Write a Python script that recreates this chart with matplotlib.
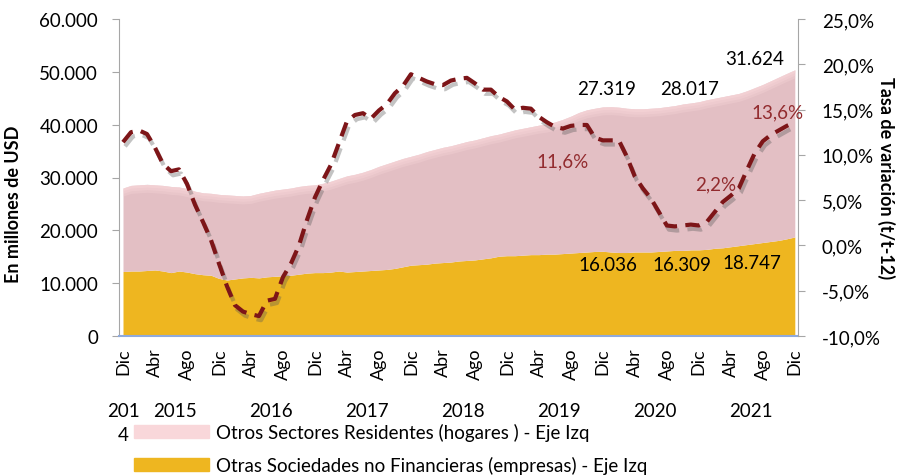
import matplotlib
matplotlib.use("Agg")
import matplotlib.pyplot as plt
import matplotlib.patheffects as pe
import numpy as np
from matplotlib.ticker import FuncFormatter

plt.rcParams['font.family'] = ['Lato', 'DejaVu Sans']

# monthly data, Dic 2014 .. Dic 2021 (millones de USD)
empresas = [
    12200, 12300, 12300, 12400, 12500, 12300, 12000, 12300, 12100, 11800, 11600, 11500,
    10900, 10600, 10800, 11000, 11100, 11000, 11200, 11300, 11400, 11500, 11700, 11900,
    12000, 12000, 12100, 12300, 12100, 12200, 12300, 12400, 12500, 12600, 12800, 13100,
    13400, 13500, 13600, 13800, 13900, 14000, 14200, 14300, 14400, 14600, 14800, 15100,
    15200, 15200, 15300, 15400, 15400, 15500, 15500, 15600, 15700, 15800, 15900, 16000,
    16036, 15900, 15800, 15800, 15900, 15900, 15900, 16000, 16100, 16200, 16200, 16300,
    16309, 16400, 16600, 16700, 16900, 17100, 17300, 17500, 17700, 17900, 18100, 18400,
    18747,
]
hogares = [
    15800, 16200, 16300, 16300, 16100, 16200, 16300, 15900, 15800, 15600, 15500, 15500,
    15900, 16100, 15800, 15500, 15500, 16000, 16100, 16300, 16400, 16500, 16600, 16600,
    16600, 16900, 17200, 17500, 18200, 18400, 18700, 19100, 19600, 20000, 20300, 20500,
    20600, 20900, 21300, 21500, 21800, 22000, 22200, 22500, 22700, 22900, 23100, 23100,
    23400, 23800, 24000, 24200, 24500, 24600, 25000, 25400, 25900, 26500, 26900, 27100,
    27319, 27500, 27500, 27300, 27100, 27100, 27200, 27200, 27300, 27400, 27700, 27800,
    28017, 28300, 28400, 28600, 28700, 28800, 29100, 29500, 29900, 30400, 30900, 31300,
    31624,
]
# tasa de variacion (t/t-12), %
tasa = [
    11.4, 12.5, 12.7, 12.3, 10.8, 9.0, 8.2, 8.4, 6.8, 4.5, 2.6, 0.6,
    -2.0, -4.5, -6.6, -7.3, -7.6, -7.8, -6.1, -5.9, -3.5, -2.0, 0.0, 2.8,
    5.3, 7.2, 8.9, 11.3, 13.7, 14.4, 14.6, 14.0, 14.9, 15.6, 16.8, 17.6,
    18.9, 18.5, 18.1, 17.8, 17.7, 18.2, 18.4, 18.5, 17.9, 17.2, 17.2, 16.4,
    15.9, 15.0, 15.2, 15.1, 14.2, 13.6, 13.1, 12.9, 13.2, 13.3, 13.3, 11.9,
    11.6, 11.6, 11.6, 9.8, 7.6, 6.3, 5.2, 3.7, 2.2, 2.1, 2.2, 2.3,
    2.2, 2.6, 3.7, 4.8, 5.5, 6.3, 8.3, 10.2, 11.5, 12.2, 12.7, 13.2,
    13.6,
]
tick_labels = ["Dic", "Abr", "Ago"] * 7 + ["Dic"]
years = ["201\n4", "2015", "2016", "2017", "2018", "2019", "2020", "2021"]
year_pos = [0, 6.5, 18.5, 30.5, 42.5, 54.5, 66.5, 78.5]

# data labels: (month, value, text)
val_labels = [(60.5, 46800, "27.319"), (70.9, 46800, "28.017"), (79.0, 52500, "31.624"),
              (60.6, 13600, "16.036"), (69.9, 13600, "16.309"), (78.6, 14000, "18.747")]
pct_labels = [(55.0, 9.3, "11,6%"), (74.1, 6.8, "2,2%"), (81.8, 14.8, "13,6%")]

PINK = "#E3BFC4"
PINK_TOP = "#F9D7DA"
GOLD = "#EEB620"
RED = "#7D1518"

months = np.arange(len(empresas))
emp = np.array(empresas)
tot = emp + np.array(hogares)

fig = plt.figure(figsize=(9.09, 4.77), dpi=100)
ax = fig.add_axes([119 / 909, 1 - 337 / 477, (798 - 119) / 909, 317 / 477])

ax.fill_between(months, 0, emp, color=GOLD, lw=0)
ax.fill_between(months, emp, tot, color=PINK, lw=0)
# soft lighter rim along the top of the pink area
for d, a in [(1500, 0.3), (1000, 0.35), (500, 0.45)]:
    ax.fill_between(months, tot - d, tot, color=PINK_TOP, lw=0, alpha=a)

ax.set_ylim(0, 60000)
ax.set_xlim(-0.5, 84.4)
ax.set_yticks(range(0, 60001, 10000))
ax.yaxis.set_major_formatter(FuncFormatter(lambda v, p: f"{int(v):,}".replace(",", ".")))
ax.set_xticks(range(0, 85, 4))
ax.set_xticklabels(tick_labels, rotation=90)
ax.tick_params(axis="x", length=0, pad=8, labelsize=13)
ax.tick_params(axis="y", length=5, pad=10, labelsize=13.5, color="#A6A6A6")
ax.set_ylabel("En millones de USD", fontsize=13, fontweight="bold")
ax.yaxis.set_label_coords(-0.143, 0.42)

for s in ["top", "right"]:
    ax.spines[s].set_visible(False)
ax.spines["left"].set_color("#A6A6A6")
ax.spines["bottom"].set_color("#8FAADC")
ax.spines["bottom"].set_linewidth(1.5)

for x, y, t in val_labels:
    ax.text(x, y, t, ha="center", va="center", fontsize=13.5, color="black", zorder=5)

for x, t in zip(year_pos, years):
    ax.text(x, -0.207, t, transform=ax.get_xaxis_transform(), ha="center", va="top",
            fontsize=13.5, linespacing=1.55)

ax2 = ax.twinx()
ax2.plot(months, tasa, color=RED, lw=3, ls=(0, (3.5, 2)),
         path_effects=[pe.SimpleLineShadow(offset=(1.5, -3), shadow_color="#555555", alpha=0.35),
                       pe.Normal()])
ax2.set_ylim(-10, 25)
ax2.set_yticks(range(-10, 26, 5))
ax2.yaxis.set_major_formatter(FuncFormatter(lambda v, p: f"{v:.1f}%".replace(".", ",")))
ax2.tick_params(axis="y", length=5, pad=12, labelsize=13.5, color="#A6A6A6")
ax2.set_ylabel("Tasa de variación (t/t-12)", fontsize=13, fontweight="bold", rotation=270,
               va="center")
ax2.yaxis.set_label_coords(1.13, 0.5)
for s in ["top", "left", "bottom"]:
    ax2.spines[s].set_visible(False)
ax2.spines["right"].set_color("#A6A6A6")

for x, y, t in pct_labels:
    ax2.text(x, y, t, ha="center", va="center", fontsize=13.5, color="#922B2E")

handles = [plt.Rectangle((0, 0), 1, 1, color=PINK_TOP),
           plt.Rectangle((0, 0), 1, 1, color=GOLD)]
fig.legend(handles, ["Otros Sectores Residentes (hogares ) - Eje Izq",
                     "Otras Sociedades no Financieras (empresas) - Eje Izq"],
           loc="upper left", bbox_to_anchor=(134 / 909, 1 - 424 / 477), frameon=False,
           fontsize=13.5, handlelength=4.0, handleheight=0.75, handletextpad=0.4,
           labelspacing=0.8, borderpad=0, borderaxespad=0)

fig.savefig("out.png", dpi=100)
